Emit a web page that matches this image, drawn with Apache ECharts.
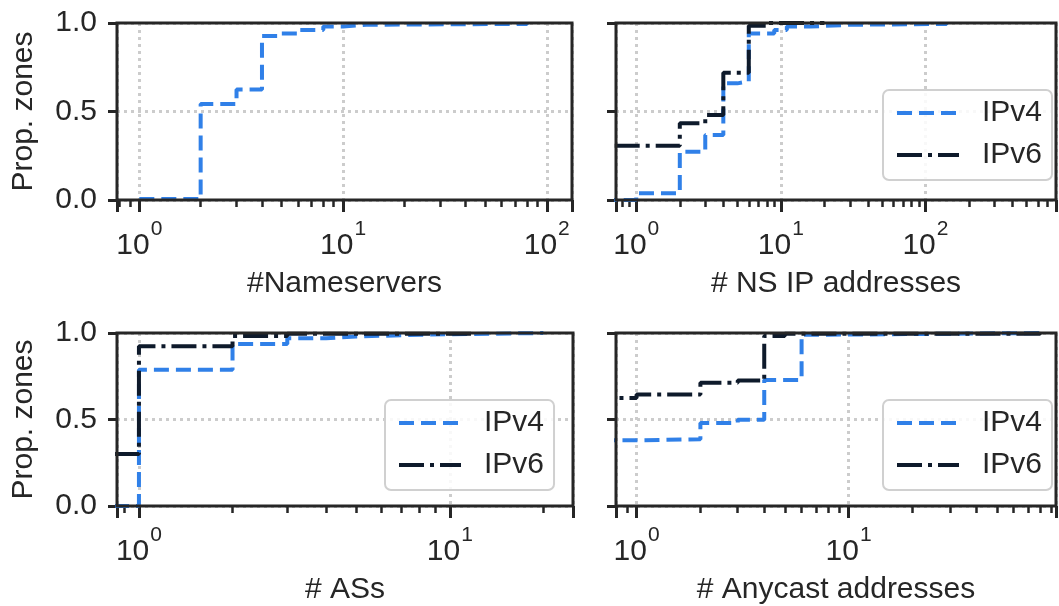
<!DOCTYPE html>
<html>
<head>
<meta charset="utf-8">
<script src="https://cdn.jsdelivr.net/npm/echarts@6/dist/echarts.min.js"></script>
<style>
html, body { margin: 0; padding: 0; background: #fff; }
#myChart { width: 1059px; height: 606px; }
</style>
</head>
<body>
<div id="myChart"></div>
<script>
// #Nameservers (IPv4 only)
var nsX  = [1, 2, 3, 4, 5, 6, 8, 10, 13, 80];
var nsV4 = [0.005, 0.542, 0.625, 0.927, 0.94, 0.96, 0.98, 0.99, 0.995, 1.0];

// # NS IP addresses  (0.1 stands in for "0", left of the axis)
var ipX4 = [0.1, 1, 2, 3, 4, 5, 6, 9, 11, 16, 30, 140];
var ipV4 = [0, 0.038, 0.273, 0.367, 0.659, 0.67, 0.94, 0.96, 0.98, 0.99, 0.995, 1.0];
var ipX6 = [0.1, 2, 3, 4, 6, 8, 20];
var ipV6 = [0.307, 0.433, 0.48, 0.719, 0.985, 1.0, 1.0];

// # ASs
var asX4 = [0.1, 1, 2, 3, 4, 5, 8, 20];
var asV4 = [0, 0.787, 0.936, 0.97, 0.98, 0.99, 1.0, 1.0];
var asX6 = [0.1, 1, 2, 3, 12];
var asV6 = [0.301, 0.923, 0.983, 0.995, 1.0];

// # Anycast addresses
var acX4 = [0.1, 1, 2, 3, 4, 6, 8, 80];
var acV4 = [0.38, 0.386, 0.48, 0.499, 0.729, 0.99, 1.0, 1.0];
var acX6 = [0.1, 1, 2, 3, 4, 5, 80];
var acV6 = [0.625, 0.644, 0.712, 0.725, 0.983, 0.995, 1.0];

var yTicks = [0, 0.5, 1];
var seriesNames = ['IPv4', 'IPv6'];

var font = 'Liberation Sans';
var ink = '#262626';
var blue = '#3080e8';
var dark = '#0e1a2b';
var gridGray = '#cccccc';

var v4Style = { color: blue, width: 4, type: [15, 7] };
var v6Style = { color: dark, width: 4, type: [25, 6, 4, 6] };

function pairs(xs, ys) {
  var out = [];
  for (var i = 0; i < xs.length; i++) out.push([xs[i], ys[i]]);
  return out;
}

function supLabel(v) {
  var e = Math.log10(v);
  var r = Math.round(e);
  if (Math.abs(e - r) > 1e-6) return '';
  return '{b|10}{s|' + r + '}';
}

function xAxisFor(idx, min, max, name) {
  return {
    type: 'log', logBase: 10, gridIndex: idx, min: min, max: max,
    name: name, nameLocation: 'middle', nameGap: 69,
    nameTextStyle: { fontSize: 30, color: ink, fontFamily: font },
    axisLine: { show: false },
    axisTick: { show: true, inside: false, length: 12, lineStyle: { color: ink, width: 3 } },
    minorTick: { show: true, splitNumber: 9, length: 7, lineStyle: { color: ink, width: 2.5 } },
    splitLine: { show: true, lineStyle: { color: gridGray, width: 3, type: [3, 4] } },
    minorSplitLine: { show: false },
    axisLabel: {
      margin: 31, formatter: supLabel,
      rich: {
        b: { fontSize: 30, fontFamily: font, color: ink, verticalAlign: 'bottom', lineHeight: 30 },
        s: { fontSize: 21, fontFamily: font, color: ink, verticalAlign: 'bottom', lineHeight: 21, padding: [0, 0, 21, 1] }
      }
    }
  };
}

function yAxisFor(idx, left) {
  return {
    type: 'value', gridIndex: idx, min: yTicks[0], max: yTicks[2], interval: yTicks[1],
    name: left ? 'Prop. zones' : '', nameLocation: 'middle', nameGap: 78,
    nameTextStyle: { fontSize: 30, color: ink, fontFamily: font },
    axisLine: { show: false },
    axisTick: { show: true, inside: false, length: 9, lineStyle: { color: ink, width: 3 } },
    splitLine: { show: true, lineStyle: { color: gridGray, width: 3, type: [3, 4] } },
    axisLabel: {
      show: left, margin: 20, fontSize: 30, color: ink, fontFamily: font,
      formatter: function (v) { return v.toFixed(1); }
    }
  };
}

function line(name, idx, xs, ys) {
  var v4 = name === 'IPv4';
  return {
    name: name, type: 'line', step: 'end', xAxisIndex: idx, yAxisIndex: idx,
    data: pairs(xs, ys), symbol: 'none', clip: true,
    lineStyle: v4 ? v4Style : v6Style,
    itemStyle: { color: v4 ? blue : dark }
  };
}

function legendAt(left, top) {
  return {
    data: [
      { name: seriesNames[0], itemStyle: { opacity: 0 }, lineStyle: v4Style },
      { name: seriesNames[1], itemStyle: { opacity: 0 }, lineStyle: v6Style }
    ],
    orient: 'vertical', left: left, top: top,
    padding: [8, 10, 10, 12], itemGap: 12, itemWidth: 62, itemHeight: 30,
    itemStyle: { opacity: 0 },
    backgroundColor: 'rgba(255,255,255,0.85)', borderColor: '#d0d0d0', borderWidth: 2, borderRadius: 6,
    textStyle: { fontSize: 30, color: ink, fontFamily: font, padding: [0, 0, 0, 18] },
    selectedMode: false
  };
}

var gridBase = { show: true, z: 5, borderColor: ink, borderWidth: 3, backgroundColor: 'transparent' };

var myChart = echarts.init(document.getElementById('myChart'));
myChart.setOption({
  animation: false,
  grid: [
    Object.assign({ left: 117, top: 23, width: 455, height: 177 }, gridBase),
    Object.assign({ left: 616, top: 23, width: 455, height: 177 }, gridBase),
    Object.assign({ left: 117, top: 333, width: 456, height: 177 }, gridBase),
    Object.assign({ left: 616, top: 333, width: 455, height: 177 }, gridBase)
  ],
  xAxis: [
    xAxisFor(0, 0.777, 133, '#Nameservers'),
    xAxisFor(1, 0.724, 800, '# NS IP addresses'),
    xAxisFor(2, 0.85, 24.9, '# ASs'),
    xAxisFor(3, 0.80, 95, '# Anycast addresses')
  ],
  yAxis: [yAxisFor(0, true), yAxisFor(1, false), yAxisFor(2, true), yAxisFor(3, false)],
  legend: [legendAt(883, 90), legendAt(385, 400), legendAt(883, 400)],
  series: [
    line('IPv4', 0, nsX, nsV4),
    line('IPv4', 1, ipX4, ipV4),
    line('IPv6', 1, ipX6, ipV6),
    line('IPv4', 2, asX4, asV4),
    line('IPv6', 2, asX6, asV6),
    line('IPv4', 3, acX4, acV4),
    line('IPv6', 3, acX6, acV6)
  ]
});
</script>
</body>
</html>
